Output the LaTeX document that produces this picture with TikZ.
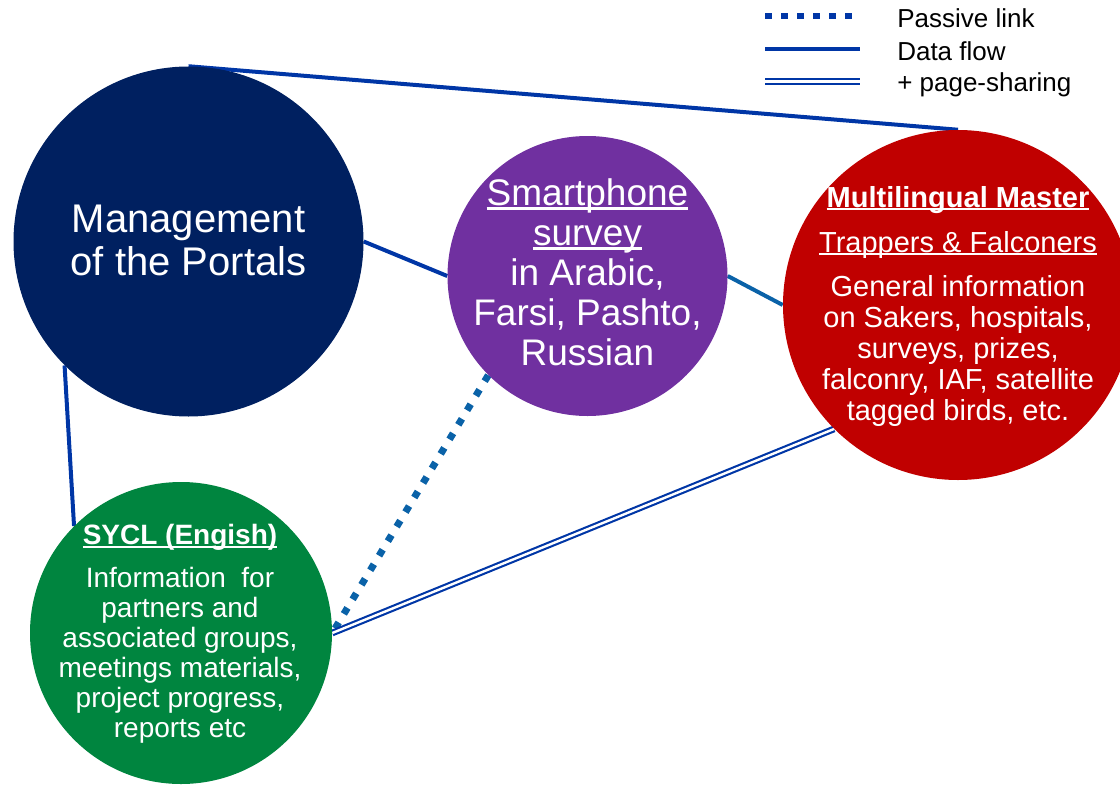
\documentclass[tikz,border=0pt]{standalone}
\usepackage{fontspec}
\setmainfont{Liberation Sans}
\usetikzlibrary{backgrounds}
\definecolor{portalnavy}{HTML}{002060}
\definecolor{surveypurple}{HTML}{7030A0}
\definecolor{masterred}{HTML}{C00000}
\definecolor{syclgreen}{HTML}{00853F}
\definecolor{linkblue}{HTML}{0036A6}
\definecolor{flowblue}{HTML}{0A62A8}
\newcommand\undl[1]{\setbox0\hbox{#1}\rlap{\rule[-0.11em]{\wd0}{0.075em}}\box0}
\begin{document}
\begin{tikzpicture}[x=0.75pt,y=-0.75pt,
    disc/.style={circle,inner sep=0pt},
    txt/.style={text=white,align=center,inner sep=0pt},
    key/.style={anchor=base west,inner sep=0pt,font=\fontsize{19.5}{21}\selectfont},
    flow/.style={line width=3pt,linkblue},
    passive/.style={line width=5.25pt,flowblue,dash pattern=on 5.25pt off 7.5pt},
    share/.style={line width=1.6pt,linkblue,double=white,double distance=1.8pt}]
    \useasboundingbox (0,0) rectangle (1120,785);

    \node[disc,fill=portalnavy,minimum size=262.5pt] (v1) at (188.5,241.5) {};
    \node[disc,fill=surveypurple,minimum size=210pt] (v2) at (587.5,276) {};
    \node[disc,fill=masterred,minimum size=262.5pt] (v3) at (958,305) {};
    \node[disc,fill=syclgreen,minimum size=226.5pt] (v4) at (181,633) {};

    \node[txt,font=\fontsize{30}{32.25}\selectfont] (t1) at (188.5,240) {Management\\of the Portals};
    \node[txt,font=\fontsize{27.75}{30}\selectfont] (t2) at (587.5,272.5) {\undl{Smartphone}\\\undl{survey}\\in Arabic,\\Farsi, Pashto,\\Russian};
    \node[txt,font=\fontsize{21.75}{23.25}\selectfont] (t3) at (958,306) {\textbf{\undl{Multilingual Master}}\\[10.5pt]\undl{Trappers \& Falconers}\\[9.75pt]General information\\on Sakers, hospitals,\\surveys, prizes,\\falconry, IAF, satellite\\tagged birds, etc.};
    \node[txt,font=\fontsize{21}{22.5}\selectfont] (t4) at (180,634) {\textbf{\undl{SYCL (Engish)}}\\[9.75pt]Information\ \ for\\partners and\\associated groups,\\meetings materials,\\project progress,\\reports etc};

    \begin{scope}[on background layer]
    \draw[flow]  (v1.north) edge (v3.north);
    \draw[flow]  (v1.east) edge (v2.west);
    \draw[flow,flowblue]  (v2.east) edge (v3.west);
    \draw[flow]  (v1.south west) edge (v4.north west);
    \draw[passive]  (v2.south west) edge (v4.east);
    \draw[share]  (v3.south west) -- (v4.east);
    \end{scope}

    \coordinate (a1) at (765,16);
    \coordinate (a2) at (853,16);
    \coordinate (b1) at (765,49);
    \coordinate (b2) at (860,49);
    \coordinate (c1) at (765,81.5);
    \coordinate (c2) at (860,81.5);
    \draw[passive,linkblue,line width=4.5pt,dash pattern=on 5.25pt off 6.75pt]  (a1) edge (a2);
    \draw[flow]  (b1) edge (b2);
    \draw[share]  (c1) -- (c2);
    \node[key] (k1) at (897,27) {Passive link};
    \node[key] (k2) at (897,60) {Data flow};
    \node[key] (k3) at (897,91) {+ page-sharing};
\end{tikzpicture}
\end{document}
